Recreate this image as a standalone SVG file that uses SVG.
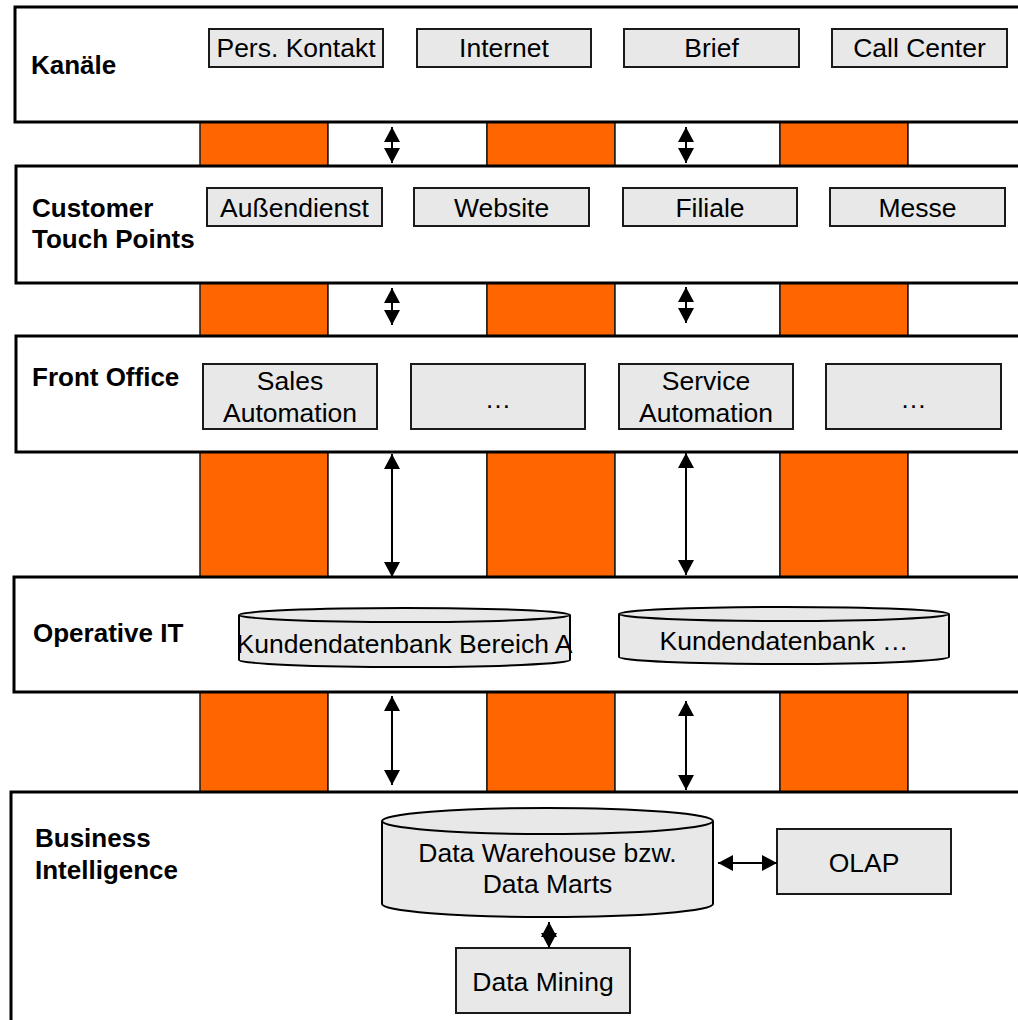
<svg xmlns="http://www.w3.org/2000/svg" width="1018" height="1020" viewBox="0 0 1018 1020">
<style>
.layer{fill:#fff;stroke:#000;stroke-width:3}
.cellO{fill:#ff6600;stroke:#1a1a1a;stroke-width:1.5}
.cellW{fill:#fff;stroke:#1a1a1a;stroke-width:1.5}
.box{fill:#e8e8e8;stroke:#1a1a1a;stroke-width:2}
.cyl{fill:#e8e8e8;stroke:#000;stroke-width:2}
.lbl{font-family:"Liberation Sans",Arial,sans-serif;font-size:26px;font-weight:bold;fill:#000}
.t{font-family:"Liberation Sans",Arial,sans-serif;font-size:26.5px;fill:#000;text-anchor:middle}
.con{stroke:#000;stroke-width:2;fill:none;marker-start:url(#ah);marker-end:url(#ah)}
</style>
<defs>
<marker id="ah" viewBox="0 0 15 16" refX="15" refY="8" markerWidth="15" markerHeight="16" markerUnits="userSpaceOnUse" orient="auto-start-reverse">
<path d="M0,0 L15,8 L0,16 z" fill="#000"/>
</marker>
</defs>
<rect width="1018" height="1020" fill="#fff"/>

<g id="bands">
<rect class="cellO" x="200" y="122" width="128" height="44"/>
<rect class="cellW" x="328" y="122" width="159" height="44"/>
<rect class="cellO" x="487" y="122" width="128" height="44"/>
<rect class="cellW" x="615" y="122" width="165" height="44"/>
<rect class="cellO" x="780" y="122" width="128" height="44"/>
<rect class="cellW" x="908" y="122" width="120" height="44"/>

<rect class="cellO" x="200" y="283" width="128" height="53"/>
<rect class="cellW" x="328" y="283" width="159" height="53"/>
<rect class="cellO" x="487" y="283" width="128" height="53"/>
<rect class="cellW" x="615" y="283" width="165" height="53"/>
<rect class="cellO" x="780" y="283" width="128" height="53"/>
<rect class="cellW" x="908" y="283" width="120" height="53"/>

<rect class="cellO" x="200" y="452" width="128" height="125"/>
<rect class="cellW" x="328" y="452" width="159" height="125"/>
<rect class="cellO" x="487" y="452" width="128" height="125"/>
<rect class="cellW" x="615" y="452" width="165" height="125"/>
<rect class="cellO" x="780" y="452" width="128" height="125"/>
<rect class="cellW" x="908" y="452" width="120" height="125"/>

<rect class="cellO" x="200" y="692" width="128" height="100"/>
<rect class="cellW" x="328" y="692" width="159" height="100"/>
<rect class="cellO" x="487" y="692" width="128" height="100"/>
<rect class="cellW" x="615" y="692" width="165" height="100"/>
<rect class="cellO" x="780" y="692" width="128" height="100"/>
<rect class="cellW" x="908" y="692" width="120" height="100"/>
</g>

<g id="layer-kanaele">
<rect class="layer" x="15" y="7" width="1020" height="115"/>
<text class="lbl" x="31" y="74">Kanäle</text>
</g>
<g id="layer-ctp">
<rect class="layer" x="16" y="166" width="1020" height="117"/>
<text class="lbl" x="32" y="217">Customer</text>
<text class="lbl" x="32" y="248">Touch Points</text>
</g>
<g id="layer-fo">
<rect class="layer" x="16" y="336" width="1020" height="116"/>
<text class="lbl" x="32" y="386">Front Office</text>
</g>
<g id="layer-oit">
<rect class="layer" x="14" y="577" width="1020" height="115"/>
<text class="lbl" x="33" y="642">Operative IT</text>
</g>
<g id="layer-bi">
<rect class="layer" x="11" y="792" width="1020" height="240"/>
<text class="lbl" x="35" y="847">Business</text>
<text class="lbl" x="35" y="879">Intelligence</text>
</g>

<g id="n-pers-kontakt"><rect class="box" x="209" y="29" width="174" height="38"/><text class="t" x="296" y="57">Pers. Kontakt</text></g>
<g id="n-internet"><rect class="box" x="417" y="29" width="174" height="38"/><text class="t" x="504" y="57">Internet</text></g>
<g id="n-brief"><rect class="box" x="624" y="29" width="175" height="38"/><text class="t" x="711.5" y="57">Brief</text></g>
<g id="n-callcenter"><rect class="box" x="832" y="29" width="175" height="38"/><text class="t" x="919.5" y="57">Call Center</text></g>

<g id="n-aussendienst"><rect class="box" x="207" y="188" width="175" height="38"/><text class="t" x="294.5" y="217">Außendienst</text></g>
<g id="n-website"><rect class="box" x="414" y="188" width="175" height="38"/><text class="t" x="501.5" y="217">Website</text></g>
<g id="n-filiale"><rect class="box" x="623" y="188" width="174" height="38"/><text class="t" x="710" y="217">Filiale</text></g>
<g id="n-messe"><rect class="box" x="830" y="188" width="175" height="38"/><text class="t" x="917.5" y="217">Messe</text></g>

<g id="n-sales"><rect class="box" x="203" y="364" width="174" height="65"/><text class="t" x="290" y="390">Sales</text><text class="t" x="290" y="422">Automation</text></g>
<g id="n-fo-etc1"><rect class="box" x="411" y="364" width="174" height="65"/><text class="t" x="498" y="408">…</text></g>
<g id="n-service"><rect class="box" x="619" y="364" width="174" height="65"/><text class="t" x="706" y="390">Service</text><text class="t" x="706" y="422">Automation</text></g>
<g id="n-fo-etc2"><rect class="box" x="826" y="364" width="175" height="65"/><text class="t" x="913.5" y="408">…</text></g>

<g id="n-kdb-a">
<path class="cyl" d="M239,615 L239,660 A165.5,7 0 0 0 570,660 L570,615"/>
<ellipse class="cyl" cx="404.5" cy="615" rx="165.5" ry="7"/>
<text class="t" x="404.5" y="653">Kundendatenbank Bereich A</text>
</g>
<g id="n-kdb-etc">
<path class="cyl" d="M619,614 L619,657 A165,7 0 0 0 949,657 L949,614"/>
<ellipse class="cyl" cx="784" cy="614" rx="165" ry="7"/>
<text class="t" x="784" y="650">Kundendatenbank …</text>
</g>

<g id="n-dwh">
<path class="cyl" d="M382,821 L382,904 A165.5,13 0 0 0 713,904 L713,821"/>
<ellipse class="cyl" cx="547.5" cy="821" rx="165.5" ry="13"/>
<text class="t" x="547.5" y="862">Data Warehouse bzw.</text>
<text class="t" x="547.5" y="893">Data Marts</text>
</g>
<g id="n-olap"><rect class="box" x="777" y="829" width="174" height="65"/><text class="t" x="864" y="872">OLAP</text></g>
<g id="n-mining"><rect class="box" x="456" y="948" width="174" height="65"/><text class="t" x="543" y="991">Data Mining</text></g>

<g id="connectors">
<line class="con" x1="392" y1="127" x2="392" y2="163"/>
<line class="con" x1="686" y1="127" x2="686" y2="163"/>
<line class="con" x1="392" y1="288" x2="392" y2="325"/>
<line class="con" x1="686" y1="287" x2="686" y2="323"/>
<line class="con" x1="392" y1="454" x2="392" y2="577"/>
<line class="con" x1="686" y1="453" x2="686" y2="575"/>
<line class="con" x1="392" y1="696" x2="392" y2="785"/>
<line class="con" x1="686" y1="701" x2="686" y2="790"/>
<line class="con" x1="718" y1="863" x2="777" y2="863"/>
<line class="con" x1="549" y1="922" x2="549" y2="948"/>
</g>
</svg>
